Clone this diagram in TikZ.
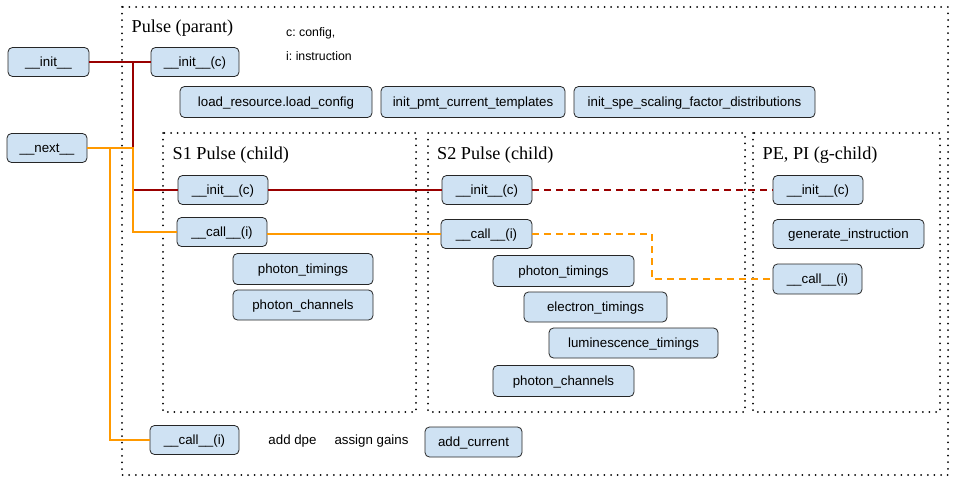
\documentclass[tikz,border=0pt]{standalone}
\usepackage{fontspec}
\setmainfont{Liberation Sans}
\newfontfamily\titlefont{Liberation Serif}
\definecolor{boxfill}{HTML}{CFE2F3}
\definecolor{lnred}{HTML}{990000}
\definecolor{lnorange}{HTML}{FF9900}
\frenchspacing
\begin{document}
\begin{tikzpicture}[x=1pt,y=-1pt,
  box/.style={draw=black!85, line width=0.8pt, fill=boxfill, rounded corners=4.5pt, inner sep=0pt,
    text height=12pt, text depth=2.6pt, font=\fontsize{13.3}{15}\selectfont},
  grp/.style={line width=2pt, line cap=round, dash pattern=on 0pt off 6.6pt, black},
  ttl/.style={anchor=west, inner sep=0pt, font=\titlefont\fontsize{18.2}{21}\selectfont},
  note/.style={anchor=west, inner sep=0pt, font=\fontsize{12.3}{14}\selectfont},
  free/.style={inner sep=0pt, font=\fontsize{13.3}{15}\selectfont},
  redln/.style={draw=lnred, line width=2pt},
  orln/.style={draw=lnorange, line width=2pt}]
\useasboundingbox (0,0) rectangle (956,500);

% group boxes
\draw[grp] (122,7) rectangle (948,475);
\draw[grp] (163,133) rectangle (416,412);
\draw[grp] (428,133) rectangle (745,412);
\draw[grp] (753,133) rectangle (940,412);

% titles and notes
\node[ttl] (tpulse) at (131.5,28.5) {Pulse (parant)};
\node[ttl] (ts1) at (172.5,155) {S1 Pulse (child)};
\node[ttl] (ts2) at (437,155) {S2 Pulse (child)};
\node[ttl] (tpe) at (762.5,155) {PE, PI (g-child)};
\node[note] (nc) at (286,33) {c: config,};
\node[note] (ni) at (286,56) {i: instruction};

% nodes
\node[box, minimum width=81pt, minimum height=29pt] (init) at (48.5,62) {\_\_init\_\_};
\node[box, minimum width=80pt, minimum height=29pt] (next) at (47,148) {\_\_next\_\_};
\node[box, minimum width=88pt, minimum height=29pt] (pinit) at (195,62) {\_\_init\_\_(c)};
\node[box, minimum width=192pt, minimum height=31pt] (load) at (276,102) {load\_resource.load\_config};
\node[box, minimum width=184pt, minimum height=31pt] (pmt) at (473,102) {init\_pmt\_current\_templates};
\node[box, minimum width=241pt, minimum height=31pt] (spe) at (694.5,102) {init\_spe\_scaling\_factor\_distributions};

\node[box, minimum width=90pt, minimum height=29pt] (s1init) at (223,190) {\_\_init\_\_(c)};
\node[box, minimum width=90pt, minimum height=29pt] (s1call) at (222,232) {\_\_call\_\_(i)};
\node[box, minimum width=140pt, minimum height=31pt] (s1pt) at (303,269) {photon\_timings};
\node[box, minimum width=140pt, minimum height=30pt] (s1pc) at (303,305) {photon\_channels};

\node[box, minimum width=90pt, minimum height=29pt] (s2init) at (487,190) {\_\_init\_\_(c)};
\node[box, minimum width=91pt, minimum height=29pt] (s2call) at (486.5,234) {\_\_call\_\_(i)};
\node[box, minimum width=141pt, minimum height=31pt] (s2pt) at (563.5,271) {photon\_timings};
\node[box, minimum width=143pt, minimum height=30pt] (s2et) at (595.5,307) {electron\_timings};
\node[box, minimum width=169pt, minimum height=30pt] (s2lt) at (633.5,343) {luminescence\_timings};
\node[box, minimum width=141pt, minimum height=31pt] (s2pc) at (563.5,381) {photon\_channels};

\node[box, minimum width=90pt, minimum height=29pt] (peinit) at (818,190) {\_\_init\_\_(c)};
\node[box, minimum width=151pt, minimum height=29pt] (gen) at (848.5,234) {generate\_instruction};
\node[box, minimum width=89pt, minimum height=30pt] (pecall) at (817.5,279) {\_\_call\_\_(i)};

\node[box, minimum width=89pt, minimum height=29pt] (bcall) at (194.5,440) {\_\_call\_\_(i)};
\node[free] (adddpe) at (292.5,441) {add dpe};
\node[free] (assign) at (371.5,441) {assign gains};
\node[box, minimum width=97pt, minimum height=30pt] (addc) at (473.5,442) {add\_current};

% junction coordinates
\coordinate (jr) at (133,0);
\coordinate (jb) at (110,0);
\coordinate (jd) at (652,0);

% red connectors
\draw[redln] (init.east) -- (pinit.west);
\draw[redln] (init.east -| jr) |- (s1init.west);
\draw[redln] (s1init.east) -- (s2init.west);
\draw[redln, dash pattern=on 7pt off 5pt] (s2init.east) -- (peinit.west);

% orange connectors
\draw[orln] (next.east) -- (next.east -| jr) |- (s1call.west);
\draw[orln] (next.east -| jb) |- (bcall.west);
\draw[orln] (s1call.east |- s2call.west) -- (s2call.west);
\draw[orln, dash pattern=on 7pt off 5pt] (s2call.east) -- (s2call.east -| jd) |- (pecall.west);
\end{tikzpicture}
\end{document}
